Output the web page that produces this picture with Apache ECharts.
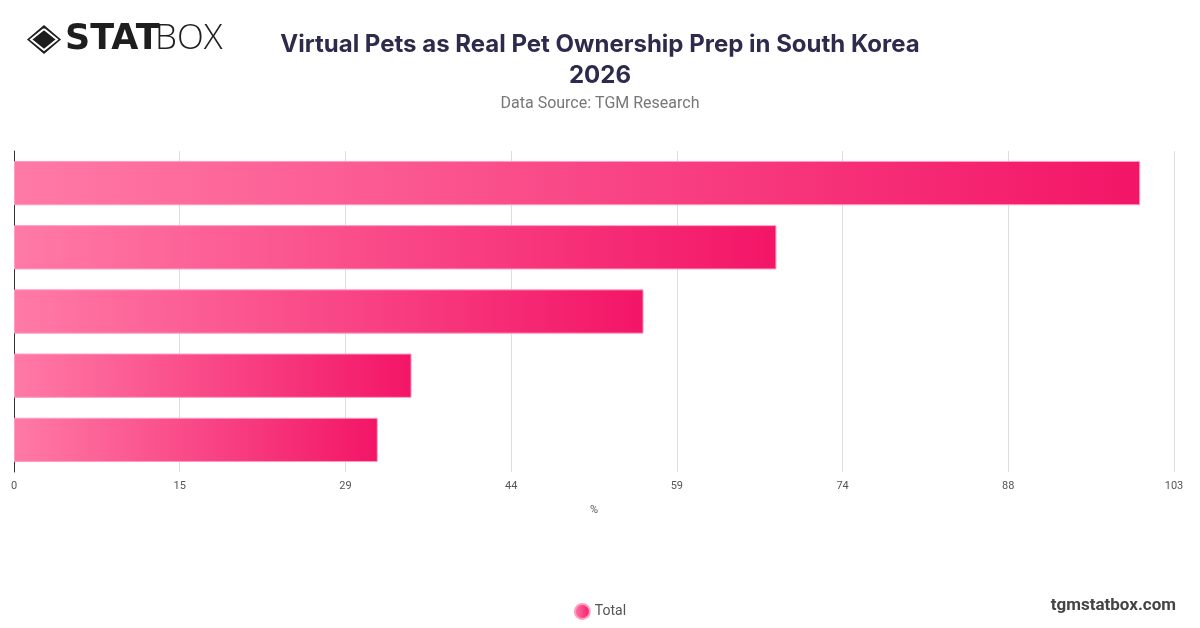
<!DOCTYPE html>
<html>
<head>
<meta charset="utf-8">
<title>Virtual Pets as Real Pet Ownership Prep in South Korea 2026</title>
<script src="https://cdn.jsdelivr.net/npm/echarts@6/dist/echarts.min.js"></script>
<style>
  html, body { margin: 0; padding: 0; background: #fff; }
  #main { width: 1200px; height: 628px; }
</style>
</head>
<body>
<div id="main"></div>
<script>
// categories are not printed on the chart, only the bars
var categories = ['Group 1', 'Group 2', 'Group 3', 'Group 4', 'Group 5'];
var totals = [100.0, 67.7, 55.9, 35.3, 32.3];
var axisMax = 103;
var tickCount = 7;

var chart = echarts.init(document.getElementById('main'));

var barGradient = new echarts.graphic.LinearGradient(0, 0, 1, 0, [
  { offset: 0, color: '#ff7aa6' },
  { offset: 1, color: '#f31567' }
]);

chart.setOption({
  animation: false,
  backgroundColor: '#fff',
  title: [{
    text: 'Virtual Pets as Real Pet Ownership Prep in South Korea\n2026',
    left: 'center',
    top: 24,
    textStyle: {
      fontFamily: 'Inter',
      fontWeight: 'bold',
      fontSize: 24,
      lineHeight: 31,
      color: '#2e2a4b'
    }
  }, {
    text: 'Data Source: TGM Research',
    left: 'center',
    top: 91,
    textStyle: {
      fontFamily: 'Roboto',
      fontWeight: 'normal',
      fontSize: 16,
      color: '#777'
    }
  }],
  grid: {
    left: 14,
    right: 26,
    top: 151,
    bottom: 156,
    containLabel: false
  },
  legend: {
    bottom: 3,
    left: 'center',
    icon: 'circle',
    itemWidth: 15,
    itemHeight: 15,
    itemGap: 10,
    textStyle: { fontFamily: 'Roboto', fontSize: 14, color: '#555' },
    data: ['Total']
  },
  xAxis: {
    type: 'value',
    min: 0,
    max: axisMax,
    interval: axisMax / tickCount,
    name: '%',
    nameLocation: 'middle',
    nameGap: 33,
    nameTextStyle: { fontFamily: 'Roboto', fontSize: 11, color: '#555' },
    axisLine: { show: false },
    axisTick: { show: false },
    axisLabel: {
      fontFamily: 'Roboto',
      fontSize: 11,
      color: '#555',
      margin: 9,
      formatter: function (v) { return Math.round(v); }
    },
    splitLine: { show: true, lineStyle: { color: '#ddd', width: 1 } }
  },
  yAxis: {
    type: 'category',
    inverse: true,
    data: categories,
    axisLine: { show: true, lineStyle: { color: '#333', width: 1 } },
    axisTick: { show: true, length: 0 },
    axisLabel: { show: false },
    splitLine: { show: false }
  },
  series: [{
    name: 'Total',
    type: 'bar',
    data: totals,
    barCategoryGap: '31%',
    itemStyle: {
      color: barGradient,
      borderColor: '#ff9cc0',
      borderWidth: 1
    }
  }],
  graphic: [
    // logo mark
    {
      type: 'polygon',
      shape: { points: [[44, 25], [61, 39.5], [44, 54], [27, 39.5]] },
      style: { fill: '#1e1e1e' }
    },
    {
      type: 'polyline',
      shape: { points: [[44, 29], [57, 39.5], [44, 50], [31, 39.5], [44, 29]] },
      style: { stroke: '#fff', lineWidth: 2, fill: null }
    },
    {
      type: 'polygon',
      shape: { points: [[44, 33], [52, 39.5], [44, 46], [36, 39.5]] },
      style: { fill: '#1e1e1e' }
    },
    {
      type: 'text',
      left: 65,
      top: 22,
      style: {
        text: 'STAT',
        font: '900 35px "DejaVu Sans"',
        fill: '#1e1e1e'
      }
    },
    {
      type: 'text',
      left: 155,
      top: 22,
      style: {
        text: 'BOX',
        font: '300 35px "Open Sans"',
        fill: '#1e1e1e'
      }
    },
    {
      type: 'text',
      right: 24,
      top: 597,
      style: {
        text: 'tgmstatbox.com',
        font: 'bold 17px Roboto',
        fill: '#444'
      }
    }
  ]
});
</script>
</body>
</html>
